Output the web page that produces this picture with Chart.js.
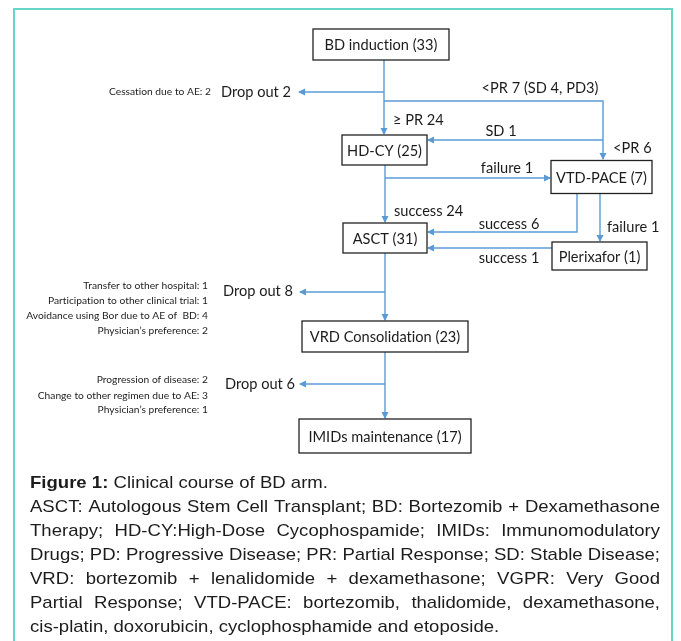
<!DOCTYPE html>
<html>
<head>
<meta charset="utf-8">
<script src="https://cdn.jsdelivr.net/npm/chart.js@4.4.1/dist/chart.umd.min.js"></script>
<style>
  html, body { margin: 0; padding: 0; background: #fff; overflow: hidden; }
  #frame { position: absolute; left: 13px; top: 8px; width: 660px; height: 700px; border: 2px solid #66d4c6; box-sizing: border-box; }
  #flow { position: absolute; left: 0; top: 0; }
</style>
</head>
<body>
<div id="frame"></div>
<canvas id="flow" width="681" height="641"></canvas>
<script>
// boxes of the flow (label + count)
const nodeLabels = ['BD induction (33)', 'HD-CY (25)', 'VTD-PACE (7)', 'ASCT (31)', 'Plerixafor (1)', 'VRD Consolidation (23)', 'IMIDs maintenance (17)'];
const nodeX = [381, 384.5, 601.5, 385, 599.5, 385, 385];
const nodeY = [44.5, 150, 177, 238, 256, 336.5, 436];
const nodeW = [136, 85, 101, 84, 95, 166, 172];
const nodeH = [31, 30, 33, 30, 28, 31, 34];

// arrows, each one a polyline ending in an arrow head
const edgePaths = [
  [[384, 60], [384, 134]],
  [[384, 92], [299, 92]],
  [[384, 101], [603, 101], [603, 159]],
  [[603, 140], [428, 140]],
  [[385, 165], [385, 222]],
  [[385, 178], [550, 178]],
  [[577, 193], [577, 232], [428, 232]],
  [[600, 193], [600, 241]],
  [[552, 248], [428, 248]],
  [[385, 253], [385, 320]],
  [[385, 292], [300, 292]],
  [[385, 352], [385, 418]],
  [[385, 384], [300, 384]]
];

// arrow labels
const edgeText = ['Drop out 2', '<PR 7 (SD 4, PD3)', '\u2265 PR 24', 'SD 1', '<PR 6', 'failure 1', 'success 24', 'success 6', 'failure 1', 'success 1', 'Drop out 8', 'Drop out 6'];
const edgeTextX = [291, 540, 393, 501, 613, 507, 394, 509, 607, 509, 293, 295];
const edgeTextY = [92, 88, 120, 131, 148, 168, 211, 224, 227, 258, 291, 384];
const edgeTextAlign = ['right', 'center', 'left', 'center', 'left', 'center', 'left', 'center', 'left', 'center', 'right', 'right'];

// drop out reasons
const reasonText = ['Cessation due to AE: 2',
  'Transfer to other hospital: 1', 'Participation to other clinical trial: 1', 'Avoidance using Bor due to AE of  BD: 4', 'Physician\u2019s preference: 2',
  'Progression of disease: 2', 'Change to other regimen due to AE: 3', 'Physician\u2019s preference: 1'];
const reasonY = [92, 286, 301, 316, 331, 380, 396, 410];
const reasonRight = [211, 208, 208, 208, 208, 208, 208, 208];

// caption
const captionLines = [
  'Clinical course of BD arm.',
  'ASCT: Autologous Stem Cell Transplant; BD: Bortezomib + Dexamethasone',
  'Therapy; HD-CY:High-Dose Cycophospamide; IMIDs: Immunomodulatory',
  'Drugs; PD: Progressive Disease; PR: Partial Response; SD: Stable Disease;',
  'VRD: bortezomib + lenalidomide + dexamethasone; VGPR: Very Good',
  'Partial Response; VTD-PACE: bortezomib, thalidomide, dexamethasone,',
  'cis-platin, doxorubicin, cyclophosphamide and etoposide.'
];
const captionJustify = [false, true, true, true, true, true, false];

const ARROW = '#5b9bd5';
const INK = '#1c1c1c';
const flowFont = '15px Lato';
const noteFont = '9.5px Lato';
const capFont = '17px "Liberation Sans"';
const capBold = 'bold 17px "Liberation Sans"';

const fitK = (ctx, font, str, target) => {
  ctx.font = font;
  return target / ctx.measureText(str).width;
};

const drawText = (ctx, str, x, y, font, k, align) => {
  ctx.save();
  ctx.font = font;
  ctx.letterSpacing = '0.01px';
  ctx.fillStyle = INK;
  ctx.textBaseline = 'middle';
  ctx.textAlign = 'left';
  const w = ctx.measureText(str).width * k;
  const left = align === 'left' ? x : align === 'right' ? x - w : x - w / 2;
  ctx.translate(left, y);
  ctx.scale(k, 1);
  ctx.fillText(str, 0, 0);
  ctx.restore();
};

const flowPlugin = {
  id: 'flow',
  afterDatasetsDraw(chart) {
    const { ctx, scales: { x, y } } = chart;
    const px = (v) => x.getPixelForValue(v);
    const py = (v) => y.getPixelForValue(v);
    const kFlow = fitK(ctx, flowFont, 'BD induction (33)', 113);
    const kNote = fitK(ctx, noteFont, 'Participation to other clinical trial: 1', 160);

    // arrows
    ctx.save();
    ctx.strokeStyle = ARROW;
    ctx.fillStyle = ARROW;
    ctx.lineWidth = 1.4;
    edgePaths.forEach((path) => {
      ctx.beginPath();
      path.forEach(([a, b], i) => (i ? ctx.lineTo(px(a), py(b)) : ctx.moveTo(px(a), py(b))));
      ctx.stroke();
      const [a0, b0] = path[path.length - 2];
      const [a1, b1] = path[path.length - 1];
      const ang = Math.atan2(py(b1) - py(b0), px(a1) - px(a0));
      ctx.save();
      ctx.translate(px(a1), py(b1));
      ctx.rotate(ang);
      ctx.beginPath();
      ctx.moveTo(1, 0);
      ctx.lineTo(-6, -3.5);
      ctx.lineTo(-6, 3.5);
      ctx.closePath();
      ctx.fill();
      ctx.restore();
    });
    ctx.restore();

    // boxes
    nodeLabels.forEach((lab, i) => {
      const l = px(nodeX[i] - nodeW[i] / 2);
      const t = py(nodeY[i] - nodeH[i] / 2);
      const w = px(nodeX[i] + nodeW[i] / 2) - l;
      const h = py(nodeY[i] + nodeH[i] / 2) - t;
      ctx.fillStyle = '#fff';
      ctx.fillRect(l, t, w, h);
      ctx.strokeStyle = '#222';
      ctx.lineWidth = 1.3;
      ctx.strokeRect(l, t, w, h);
      drawText(ctx, lab, px(nodeX[i]), py(nodeY[i]) + 1, flowFont, kFlow, 'center');
    });

    edgeText.forEach((s, i) => drawText(ctx, s, px(edgeTextX[i]), py(edgeTextY[i]), flowFont, kFlow, edgeTextAlign[i]));
    reasonText.forEach((s, i) => drawText(ctx, s, px(reasonRight[i]), py(reasonY[i]), noteFont, kNote, 'right'));

    // caption
    const kCap = fitK(ctx, capFont, captionLines[3], 630);
    const capLeft = 30;
    captionLines.forEach((line, i) => {
      const cy = 483 + i * 24;
      ctx.save();
      ctx.fillStyle = INK;
      ctx.textBaseline = 'middle';
      ctx.translate(capLeft, cy);
      ctx.scale(kCap, 1);
      if (i === 0) {
        ctx.font = capBold;
        ctx.fillText('Figure 1:', 0, 0);
        const bw = ctx.measureText('Figure 1: ').width;
        ctx.font = capFont;
        ctx.fillText(line, bw, 0);
      } else {
        ctx.font = capFont;
        const words = line.split(' ');
        if (captionJustify[i]) {
          const sum = words.reduce((s, wd) => s + ctx.measureText(wd).width, 0);
          const gap = (630 / kCap - sum) / (words.length - 1);
          let cx = 0;
          words.forEach((wd) => {
            ctx.fillText(wd, cx, 0);
            cx += ctx.measureText(wd).width + gap;
          });
        } else {
          ctx.fillText(line, 0, 0);
        }
      }
      ctx.restore();
    });
  }
};

new Chart(document.getElementById('flow'), {
  type: 'scatter',
  data: {
    datasets: [{
      data: nodeX.map((v, i) => ({ x: v, y: nodeY[i] })),
      pointRadius: 0
    }]
  },
  options: {
    responsive: false,
    animation: false,
    devicePixelRatio: 1,
    layout: { padding: 0 },
    plugins: { legend: { display: false }, tooltip: { enabled: false } },
    scales: {
      x: { type: 'linear', min: 0, max: 681, display: false },
      y: { type: 'linear', min: 0, max: 641, reverse: true, display: false }
    }
  },
  plugins: [flowPlugin]
});
</script>
</body>
</html>
